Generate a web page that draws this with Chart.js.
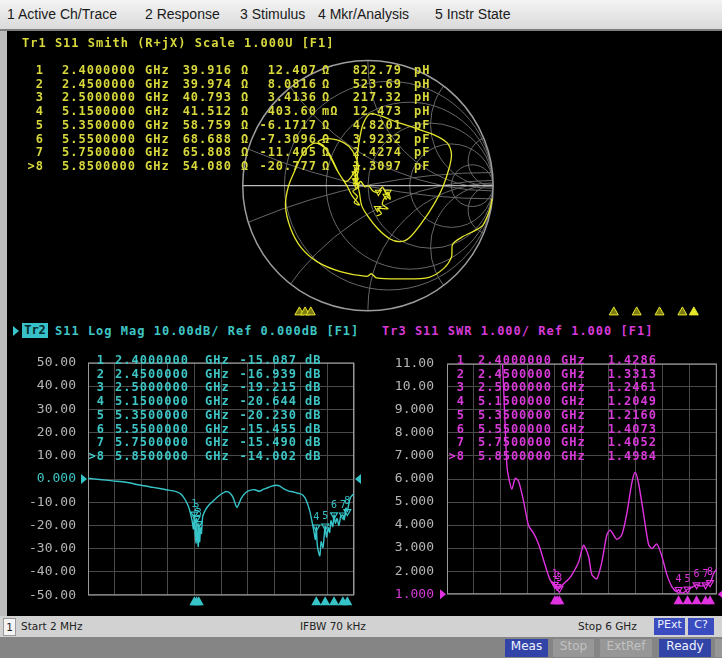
<!DOCTYPE html>
<html>
<head>
<meta charset="utf-8">
<title>S11 – Smith / Log Mag / SWR</title>
<script src="https://cdn.jsdelivr.net/npm/chart.js@4/dist/chart.umd.min.js"></script>
<style>
  html, body { margin:0; padding:0; }
  body { width:722px; height:658px; position:relative; overflow:hidden; background:#000; }
  .abs { position:absolute; white-space:pre; }
  #menu { left:0; top:0; width:722px; height:29px; background:linear-gradient(#f3f3f3,#dadada); border-bottom:2px solid #7d7d7d; }
  #menu span { position:absolute; top:6px; font:14px "Liberation Sans", Arial, sans-serif; color:#1a1a1a; }
  #lstrip { left:0; top:31px; width:7px; height:585px; background:#bdbdbd; }
  canvas { position:absolute; }
  .t { position:absolute; white-space:pre; font:bold 12px "DejaVu Sans Mono", monospace; letter-spacing:1px; line-height:14px; height:14px; }
  #status { left:0; top:616px; width:722px; height:21px; background:#d2d2d2; }
  #status span { position:absolute; top:4px; font:10.5px "DejaVu Sans", sans-serif; color:#222; }
  #status .chip { top:2px; height:17px; line-height:17px; text-align:center; background:#3a4cc0; color:#eef2ff; font:11px "DejaVu Sans", sans-serif; }
  #status .one { top:2px; left:3px; width:11px; height:16px; line-height:16px; text-align:center; background:#f4f4f4; border:1px solid #9a9a9a; }
  #bottom { left:0; top:637px; width:722px; height:21px; background:#858585; }
  .btn { position:absolute; top:2px; height:18px; line-height:18px; text-align:center; font:12px "DejaVu Sans", sans-serif; }
  .blue { background:#3344a8; color:#eef2ff; }
  .dis { background:#979797; color:#c2c2c2; }
  #tr2box { left:22px; top:323px; width:26px; height:15px; line-height:15px; background:#38c0c8; color:#04282c; font:bold 12px "DejaVu Sans Mono", monospace; text-align:center; }
  #tr2arrow { left:13px; top:326px; width:0; height:0; border-top:5px solid transparent; border-bottom:5px solid transparent; border-left:6px solid #38c4c8; }
</style>
</head>
<body>
<div id="menu" class="abs">
  <span style="left:7px">1 Active Ch/Trace</span>
  <span style="left:145px">2 Response</span>
  <span style="left:240px">3 Stimulus</span>
  <span style="left:318px">4 Mkr/Analysis</span>
  <span style="left:435px">5 Instr State</span>
</div>
<div id="lstrip" class="abs"></div>

<canvas id="smith" width="715" height="291" style="left:7px;top:31px"></canvas>
<canvas id="logmag" width="358" height="272" style="left:7px;top:343px"></canvas>
<canvas id="swr" width="357" height="272" style="left:365px;top:343px"></canvas>

<div id="tr2arrow" class="abs"></div>
<div id="tr2box" class="abs">Tr2</div>

<div id="status" class="abs">
  <span class="one">1</span>
  <span style="left:21px">Start 2 MHz</span>
  <span style="left:300px">IFBW 70 kHz</span>
  <span style="left:578px">Stop 6 GHz</span>
  <span class="chip" style="left:654px;width:31px">PExt</span>
  <span class="chip" style="left:688px;width:26px">C?</span>
</div>
<div id="bottom" class="abs">
  <span class="btn blue" style="left:505px;width:43px">Meas</span>
  <span class="btn dis" style="left:553px;width:41px">Stop</span>
  <span class="btn dis" style="left:600px;width:52px">ExtRef</span>
  <span class="btn blue" style="left:659px;width:52px">Ready</span>
  <span class="btn dis" style="left:715px;width:10px"></span>
</div>

<script>
Chart.defaults.animation = false;
Chart.defaults.responsive = false;
Chart.defaults.devicePixelRatio = 1;
Chart.defaults.events = [];
Chart.defaults.plugins.legend.display = false;
Chart.defaults.plugins.tooltip.enabled = false;

const YEL = '#e6e62a', CYAN = '#36c4c8', MAG = '#e032e0';
const YEL_TXT = '#d8d83c', CYAN_TXT = '#3ec6c6', MAG_TXT = '#d83ad8';
const GRID = '#4a4a4a', FRAME = '#9a9a9a', TICK = '#b6b6b6';

// ---- markers (shared by all three traces) ----
const markerNames = ['1', '2', '3', '4', '5', '6', '7', '>8'];
const markerFreq = [2.4, 2.45, 2.5, 5.15, 5.35, 5.55, 5.75, 5.85];
const markerFreqText = ['2.4000000', '2.4500000', '2.5000000', '5.1500000', '5.3500000', '5.5500000', '5.7500000', '5.8500000'];

// Smith (R+jX) marker readout
const smithR = [39.916, 39.974, 40.793, 41.512, 58.759, 68.688, 65.808, 54.080];
const smithX = [12.407, 8.0816, 3.4136, 0.4036, -6.1717, -7.3096, -11.405, -20.777];
const smithRText = ['39.916', '39.974', '40.793', '41.512', '58.759', '68.688', '65.808', '54.080'];
const smithXText = ['12.407', '8.0816', '3.4136', '403.60', '-6.1717', '-7.3096', '-11.405', '-20.777'];
const smithXUnit = ['Ω', 'Ω', 'Ω', 'mΩ', 'Ω', 'Ω', 'Ω', 'Ω'];
const smithLCText = ['822.79', '523.69', '217.32', '12.473', '4.8201', '3.9232', '2.4274', '1.3097'];
const smithLCUnit = ['pH', 'pH', 'pH', 'pH', 'pF', 'pF', 'pF', 'pF'];

// Log Mag marker readout (dB)
const logMagMarkers = [-15.087, -16.939, -19.215, -20.644, -20.230, -15.455, -15.490, -14.002];
const logMagMarkerText = ['-15.087', '-16.939', '-19.215', '-20.644', '-20.230', '-15.455', '-15.490', '-14.002'];

// SWR marker readout
const swrMarkers = [1.4286, 1.3313, 1.2461, 1.2049, 1.2160, 1.4073, 1.4052, 1.4984];
const swrMarkerText = ['1.4286', '1.3313', '1.2461', '1.2049', '1.2160', '1.4073', '1.4052', '1.4984'];

// ---- Smith trace: reflection coefficient (real / imaginary) ----
const smithRe = [0.992, 0.975, 0.955, 0.908, 0.751, 0.677, 0.667, 0.606, 0.488, 0.278, 0.068, 0.029, -0.010, -0.220, -0.404,
  -0.535, -0.619, -0.659, -0.635, -0.583, -0.522, -0.444, -0.383, -0.320, -0.278, -0.234, -0.181, -0.136, -0.091, -0.110,
  -0.103, -0.081, -0.115, -0.100, -0.073, -0.121, -0.084, -0.110, -0.068, -0.126, -0.163,
  -0.247, -0.299, -0.352, -0.399, -0.339, -0.234, -0.155, -0.102, -0.076, -0.089, -0.068, -0.050, 0.003, 0.081, 0.173,
  0.257, 0.331, 0.436, 0.528, 0.598, 0.651, 0.667, 0.633, 0.528, 0.383, 0.226, 0.108, 0.016, -0.037, -0.063,
  -0.081, -0.089, -0.100, -0.093, -0.058, -0.024, 0.003, 0.042, 0.083, 0.115, 0.147, 0.161, 0.178, 0.145, 0.115,
  0.160, 0.076, 0.108, 0.068];
const smithIm = [-0.105, -0.190, -0.247, -0.333, -0.420, -0.478, -0.583, -0.675, -0.748, -0.761, -0.753, -0.719, -0.740, -0.701, -0.622,
  -0.504, -0.346, -0.163, -0.005, 0.126, 0.257, 0.341, 0.336, 0.278, 0.199, 0.105, 0.034, 0.068, 0.151, 0.113,
  0.099, 0.068, 0.052, 0.041, -0.010, -0.045, -0.089, -0.136, -0.157, -0.084, -0.010,
  0.126, 0.231, 0.323, 0.357, 0.383, 0.370, 0.323, 0.244, 0.152, 0.047, -0.058, -0.163, -0.255, -0.354, -0.433,
  -0.457, -0.425, -0.294, -0.150, -0.010, 0.152, 0.257, 0.349, 0.415, 0.467, 0.520, 0.567, 0.585, 0.507, 0.402,
  0.283, 0.178, 0.087, 0.005, 0.034, -0.010, 0.000, -0.045, -0.052, -0.010, -0.071, -0.052, -0.110, -0.084, -0.150,
  -0.189, -0.184, -0.228, -0.247];
const smithRCircles = [0.2, 0.5, 1, 2, 5];
const smithXArcs = [0.2, 0.5, 1, 2, 5, -0.2, -0.5, -1, -2, -5];

// ---- Log Mag trace (GHz, dB) ----
const logMagFreq = [0.002, 0.26, 0.56, 0.86, 1.17, 1.47, 1.77, 1.99, 2.10, 2.18, 2.26, 2.31, 2.35, 2.38, 2.40, 2.42, 2.44, 2.45, 2.47, 2.49,
  2.50, 2.52, 2.54, 2.56, 2.59, 2.66, 2.74, 2.86, 2.97, 3.05, 3.12, 3.20, 3.27, 3.32, 3.36, 3.41, 3.46, 3.55, 3.65, 3.76,
  3.87, 3.95, 4.02, 4.13, 4.25, 4.33, 4.40, 4.48, 4.55, 4.62, 4.70, 4.78, 4.85, 4.92, 5.00, 5.05, 5.10, 5.13, 5.15, 5.17,
  5.20, 5.23, 5.26, 5.30, 5.33, 5.35, 5.38, 5.42, 5.45, 5.48, 5.52, 5.55, 5.58, 5.62, 5.66, 5.70, 5.75, 5.78, 5.82, 5.85,
  5.88, 5.92, 5.96, 6.00];
const logMagDb = [0.3, -0.2, -0.8, -1.4, -2.6, -3.6, -4.6, -5.4, -6.5, -8.5, -11.5, -14.5, -18.0, -21.5, -15.087, -24.0, -27.5, -16.939, -25.5, -29.0,
  -19.215, -27.0, -21.0, -23.5, -16.0, -13.0, -11.0, -8.8, -7.0, -6.0, -5.4, -6.0, -7.8, -10.5, -12.3, -10.5, -8.2, -6.0, -4.9, -4.6,
  -5.3, -4.5, -4.0, -3.2, -2.7, -3.1, -4.0, -4.8, -5.3, -5.5, -6.0, -6.3, -7.0, -9.0, -13.6, -18.0, -23.0, -26.0, -20.644, -28.0,
  -31.5, -33.0, -27.0, -29.5, -24.0, -20.230, -25.0, -21.0, -23.0, -18.0, -20.5, -15.455, -19.0, -17.0, -20.0, -16.0, -15.490, -17.5, -12.5, -14.002,
  -11.0, -8.0, -7.0, -6.5];
const logMagTickValues = [50, 40, 30, 20, 10, 0, -10, -20, -30, -40, -50];
const logMagTickLabels = ['50.00', '40.00', '30.00', '20.00', '10.00', '0.000', '-10.00', '-20.00', '-30.00', '-40.00', '-50.00'];

// ---- SWR trace (GHz, ratio) ----
const swrFreq = [0.002, 0.3, 0.9, 1.2, 1.28, 1.333, 1.37, 1.444, 1.519, 1.593, 1.704, 1.815, 1.926, 2.037, 2.185, 2.30, 2.40, 2.45, 2.50, 2.556,
  2.65, 2.741, 2.926, 3.037, 3.148, 3.222, 3.333, 3.444, 3.556, 3.630, 3.778, 3.889, 4.000, 4.111, 4.185, 4.259, 4.370, 4.481, 4.556, 4.667,
  4.778, 4.889, 5.000, 5.111, 5.15, 5.22, 5.30, 5.35, 5.45, 5.55, 5.65, 5.75, 5.85, 5.93, 6.00];
const swrVal = [60, 40, 14, 11.8, 9.0, 6.6, 6.09, 5.56, 6.03, 5.9, 5.04, 3.98, 3.65, 3.18, 2.26, 1.6, 1.4286, 1.3313, 1.2461, 1.38,
  1.55, 1.73, 2.39, 3.12, 2.65, 1.86, 1.67, 2.39, 3.58, 3.78, 3.38, 3.58, 4.51, 5.83, 6.29, 5.83, 4.51, 3.18, 2.98, 3.18,
  2.65, 1.86, 1.33, 1.1, 1.2049, 1.04, 1.12, 1.2160, 1.3, 1.4073, 1.35, 1.4052, 1.4984, 1.9, 2.1];
const swrTickValues = [11, 10, 9, 8, 7, 6, 5, 4, 3, 2, 1];
const swrTickLabels = ['11.00', '10.00', '9.000', '8.000', '7.000', '6.000', '5.000', '4.000', '3.000', '2.000', '1.000'];

// ---------- text overlays ----------
function put(txt, x, yc, color, alignRight) {
  const el = document.createElement('div');
  el.className = 't';
  el.textContent = txt;
  el.style.color = color;
  el.style.top = (yc - 7) + 'px';
  el.style.left = x + 'px';
  if (alignRight) el.style.transform = 'translateX(-100%)';
  document.body.appendChild(el);
}

put('Tr1 S11 Smith (R+jX) Scale 1.000U [F1]', 22, 43, YEL_TXT);
put('S11 Log Mag 10.00dB/ Ref 0.000dB [F1]', 55, 331, CYAN_TXT);
put('Tr3 S11 SWR 1.000/ Ref 1.000 [F1]', 382, 331, MAG_TXT);

markerNames.forEach((name, i) => {
  const ys = 70 + i * 13.7;
  put(name, 44, ys, YEL_TXT, true);
  put(markerFreqText[i], 62, ys, YEL_TXT);
  put('GHz', 145, ys, YEL_TXT);
  put(smithRText[i], 232, ys, YEL_TXT, true);
  put('Ω', 241, ys, YEL_TXT);
  put(smithXText[i], 317, ys, YEL_TXT, true);
  put(smithXUnit[i], 322, ys, YEL_TXT);
  put(smithLCText[i], 402, ys, YEL_TXT, true);
  put(smithLCUnit[i], 414, ys, YEL_TXT);

  const yl = 360 + i * 13.7;
  put(name, 105, yl, CYAN_TXT, true);
  put(markerFreqText[i], 115, yl, CYAN_TXT);
  put('GHz', 205, yl, CYAN_TXT);
  put(logMagMarkerText[i], 297, yl, CYAN_TXT, true);
  put('dB', 305, yl, CYAN_TXT);

  put(name, 465, yl, MAG_TXT, true);
  put(markerFreqText[i], 478, yl, MAG_TXT);
  put('GHz', 561, yl, MAG_TXT);
  put(swrMarkerText[i], 657, yl, MAG_TXT, true);
});

// ---------- Smith chart ----------
const Z0 = 50;
const smithMarkerPts = smithR.map((r, i) => {
  const x = smithX[i], dr = r + Z0, nr = r - Z0, den = dr * dr + x * x;
  return { x: (nr * dr + x * x) / den, y: (x * dr - nr * x) / den };
});

const smithDecor = {
  id: 'smithDecor',
  beforeDatasetsDraw(chart) {
    const { ctx } = chart;
    const xs = chart.scales.x, ys = chart.scales.y;
    const cx = xs.getPixelForValue(0), cy = ys.getPixelForValue(0);
    const R = xs.getPixelForValue(1) - cx;
    ctx.save();
    ctx.beginPath(); ctx.arc(cx, cy, R, 0, Math.PI * 2); ctx.clip();
    ctx.strokeStyle = '#666666'; ctx.lineWidth = 1;
    smithRCircles.forEach(r => {
      ctx.beginPath();
      ctx.arc(xs.getPixelForValue(r / (1 + r)), cy, R / (1 + r), 0, Math.PI * 2);
      ctx.stroke();
    });
    smithXArcs.forEach(v => {
      ctx.beginPath();
      ctx.arc(xs.getPixelForValue(1), ys.getPixelForValue(1 / v), R / Math.abs(v), 0, Math.PI * 2);
      ctx.stroke();
    });
    ctx.restore();
    ctx.save();
    ctx.strokeStyle = '#bcbcbc'; ctx.lineWidth = 1.2;
    ctx.beginPath(); ctx.moveTo(xs.getPixelForValue(-1), cy); ctx.lineTo(xs.getPixelForValue(1), cy); ctx.stroke();
    ctx.strokeStyle = '#9c9c9c'; ctx.lineWidth = 1.5;
    ctx.beginPath(); ctx.arc(cx, cy, R, 0, Math.PI * 2); ctx.stroke();
    ctx.restore();
  },
  afterDatasetsDraw(chart) {
    const { ctx, chartArea: a } = chart;
    const fs = chart.scales.f;
    ctx.save();
    markerFreq.forEach((f, i) => {
      const px = fs.getPixelForValue(f);
      ctx.beginPath();
      ctx.moveTo(px, a.bottom - 10); ctx.lineTo(px + 4.5, a.bottom - 2); ctx.lineTo(px - 4.5, a.bottom - 2); ctx.closePath();
      ctx.fillStyle = i === markerFreq.length - 1 ? YEL : '#7c7c12';
      ctx.fill();
      ctx.strokeStyle = YEL; ctx.lineWidth = 1; ctx.stroke();
    });
    ctx.restore();
  }
};

new Chart(document.getElementById('smith'), {
  type: 'scatter',
  data: {
    datasets: [
      {
        data: smithRe.map((r, i) => ({ x: r, y: smithIm[i] })),
        showLine: true, borderColor: YEL, borderWidth: 1.3, pointRadius: 0, tension: 0.3
      },
      {
        data: smithMarkerPts, showLine: false, pointStyle: 'triangle', pointRotation: 180, pointRadius: 3.5,
        pointBorderColor: YEL, pointBackgroundColor: 'rgba(0,0,0,0)', pointBorderWidth: 1.1
      }
    ]
  },
  options: {
    layout: { padding: 0 },
    scales: {
      x: { type: 'linear', min: -2.84252, max: 2.78740, display: false },
      y: { type: 'linear', min: -1.07087, max: 1.22047, display: false },
      f: { type: 'linear', axis: 'x', position: 'bottom', min: -0.1121, max: 6.0517, display: false }
    }
  },
  plugins: [smithDecor]
});

// ---------- rectangular traces ----------
function stripDecor(color, refValue) {
  return {
    id: 'stripDecor',
    beforeDatasetsDraw(chart) {
      const { ctx, chartArea: a } = chart;
      ctx.save();
      ctx.strokeStyle = FRAME; ctx.lineWidth = 1;
      ctx.strokeRect(a.left + 0.5, a.top + 0.5, a.right - a.left - 1, a.bottom - a.top - 1);
      ctx.restore();
    },
    afterDatasetsDraw(chart) {
      const { ctx, chartArea: a } = chart;
      const xs = chart.scales.x, ys = chart.scales.y;
      ctx.save();
      ctx.fillStyle = color;
      markerFreq.forEach(f => {
        const px = xs.getPixelForValue(f);
        ctx.beginPath();
        ctx.moveTo(px, a.bottom + 1); ctx.lineTo(px + 5, a.bottom + 10); ctx.lineTo(px - 5, a.bottom + 10); ctx.closePath();
        ctx.fill();
      });
      const ry = ys.getPixelForValue(refValue);
      ctx.beginPath(); ctx.moveTo(a.left - 7, ry - 5); ctx.lineTo(a.left - 1, ry); ctx.lineTo(a.left - 7, ry + 5); ctx.closePath(); ctx.fill();
      ctx.beginPath(); ctx.moveTo(a.right + 7, ry - 5); ctx.lineTo(a.right + 1, ry); ctx.lineTo(a.right + 7, ry + 5); ctx.closePath(); ctx.fill();
      ctx.font = '10px "DejaVu Sans Mono"';
      ctx.textAlign = 'center'; ctx.textBaseline = 'bottom';
      const meta = chart.getDatasetMeta(1);
      meta.data.forEach((pt, i) => ctx.fillText(markerNames[i].replace('>', ''), pt.x, pt.y - 5));
      ctx.restore();
    }
  };
}

function stripChart(id, cfg) {
  return new Chart(document.getElementById(id), {
    type: 'line',
    data: {
      datasets: [
        {
          data: cfg.freq.map((f, i) => ({ x: f, y: cfg.vals[i] })),
          borderColor: cfg.color, borderWidth: 1.4, pointRadius: 0, tension: 0.25, fill: false
        },
        {
          data: markerFreq.map((f, i) => ({ x: f, y: cfg.markers[i] })),
          showLine: false, pointStyle: 'triangle', pointRotation: 180, pointRadius: 4,
          pointBorderColor: cfg.color, pointBackgroundColor: 'rgba(0,0,0,0)', pointBorderWidth: 1.2
        }
      ]
    },
    options: {
      layout: { padding: { top: 8, right: cfg.padRight, bottom: 13, left: 0 } },
      scales: {
        x: {
          type: 'linear', min: 0.002, max: 6,
          afterBuildTicks: s => { const t = []; for (let i = 0; i <= 10; i++) t.push({ value: s.min + i * (s.max - s.min) / 10 }); s.ticks = t; },
          afterFit: s => { s.height = 0; },
          ticks: { display: false },
          grid: { color: GRID, drawTicks: false },
          border: { display: false }
        },
        y: {
          type: 'linear', min: cfg.min, max: cfg.max,
          afterBuildTicks: s => { s.ticks = cfg.tickValues.map(v => ({ value: v })); },
          afterFit: s => { s.width = cfg.axisWidth; },
          ticks: {
            callback: (v, i) => cfg.tickLabels[i],
            color: c => (c.tick && c.tick.value === cfg.refValue) ? cfg.refColor : TICK,
            font: { family: 'DejaVu Sans Mono', size: 13 },
            padding: cfg.tickPad
          },
          grid: { color: GRID, drawTicks: false },
          border: { display: false }
        }
      }
    },
    plugins: [stripDecor(cfg.color, cfg.refValue)]
  });
}

stripChart('logmag', {
  freq: logMagFreq, vals: logMagDb, markers: logMagMarkers, color: CYAN,
  min: -50, max: 50, tickValues: logMagTickValues, tickLabels: logMagTickLabels,
  refValue: 0, refColor: CYAN_TXT, axisWidth: 81, padRight: 11, tickPad: 12
});

stripChart('swr', {
  freq: swrFreq, vals: swrVal, markers: swrMarkers, color: MAG,
  min: 1, max: 11, tickValues: swrTickValues, tickLabels: swrTickLabels,
  refValue: 1, refColor: MAG_TXT, axisWidth: 82, padRight: 5, tickPad: 13
});
</script>
</body>
</html>
